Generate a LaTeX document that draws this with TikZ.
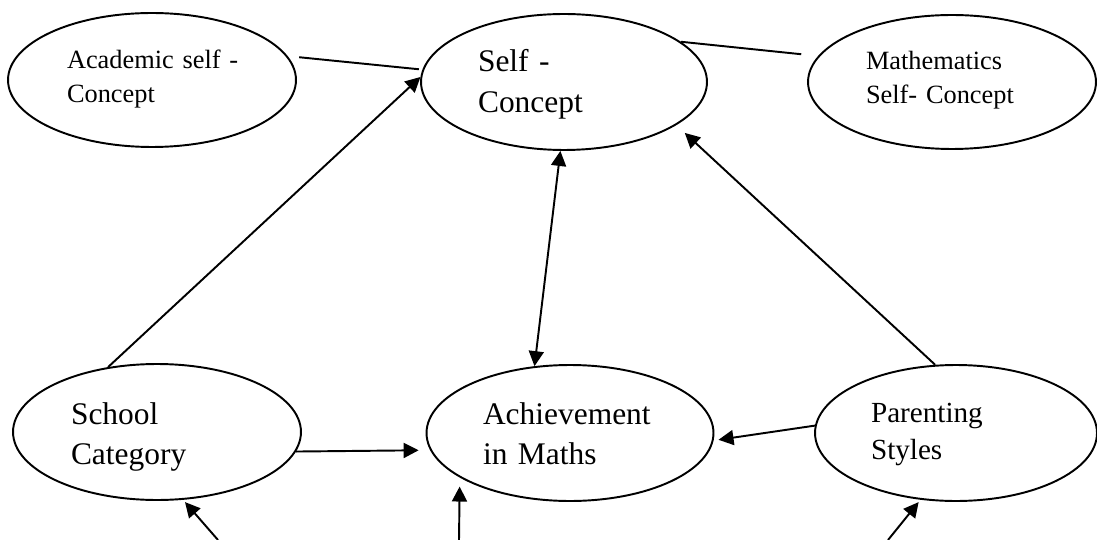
\documentclass[tikz,border=0pt]{standalone}
\usepackage{fontspec}
\setmainfont{Liberation Serif}
\usetikzlibrary{shapes.geometric,arrows.meta}
\tikzset{
  concept/.style={ellipse,draw,line width=1.1pt,inner sep=0pt,align=left,minimum height=2.72cm},
  smallfont/.style={font=\fontsize{15pt}{19.9pt}\selectfont},
  midfont/.style={font=\fontsize{16.6pt}{21.6pt}\selectfont},
  bigfont/.style={font=\fontsize{17.9pt}{23.3pt}\selectfont},
  link/.style={line width=1.1pt},
  arr/.style={line width=1.1pt,-{Triangle[length=0.3cm,width=0.3cm]}},
  twoway/.style={line width=1.1pt,{Triangle[length=0.3cm,width=0.3cm]}-{Triangle[length=0.3cm,width=0.3cm]}}
}
% invisible struts to set the text box top and bottom
\newcommand{\up}[1]{\rule{0pt}{#1}}
\newcommand{\dn}[1]{\rule[-#1]{0pt}{#1}}
\begin{document}
\begin{tikzpicture}[x=0.02cm,y=-0.02cm]
  \useasboundingbox (0,0) rectangle (1097,540);
  % top row
  \node[concept,smallfont,minimum width=5.76cm,minimum height=2.68cm,text width=3.4cm] (acad) at (152,80) {\up{0.52cm}\mbox{Academic self -}\\Concept\dn{0.3cm}};
  \node[concept,bigfont,minimum width=5.72cm,text width=3.44cm] (self) at (564,82) {\up{0.58cm}Self -\\Concept\dn{0.18cm}};
  \node[concept,smallfont,minimum width=5.76cm,minimum height=2.68cm,text width=3.44cm] (math) at (952,82) {\up{0.52cm}Mathematics\\\mbox{Self- Concept}\dn{0.34cm}};
  % bottom row
  \node[concept,bigfont,minimum width=5.76cm,text width=3.44cm] (school) at (157,432) {\up{0.68cm}School\\Category\dn{0.18cm}};
  \node[concept,bigfont,minimum width=5.74cm,text width=3.48cm] (achieve) at (570,433) {\up{0.64cm}Achievement\\in Maths\dn{0.18cm}};
  \node[concept,midfont,minimum width=5.64cm,text width=3.4cm] (parent) at (956,433) {\up{0.56cm}Parenting\\Styles\dn{0.24cm}};
  % loose ends below
  \coordinate (s1) at (218,540); \coordinate (s2) at (459,540); \coordinate (s3) at (888,540);

  \draw[link,shorten <=0.23cm,shorten >=0.07cm] (acad.10.7) -- (self.175);
  \draw[link,shorten >=0.34cm] (self.19) -- (math.169);
  \draw[arr] (school.127) -- (self.178);
  \draw[twoway] (self.267) -- (achieve.118);
  \draw[arr,shorten >=0.23cm] (parent.107) -- (self.339);
  \draw[arr,shorten >=0.23cm] (school.352) -- (achieve.187.4);
  \draw[arr,shorten >=0.1cm] (parent.177.6) -- (achieve.357.8);
  \draw[arr,shorten >=0.06cm] (s1) -- (school.291);
  \draw[arr,shorten >=0.18cm] (s2) -- (achieve.202.6);
  \draw[arr,shorten >=0.06cm] (s3) -- (parent.242.7);
\end{tikzpicture}
\end{document}
